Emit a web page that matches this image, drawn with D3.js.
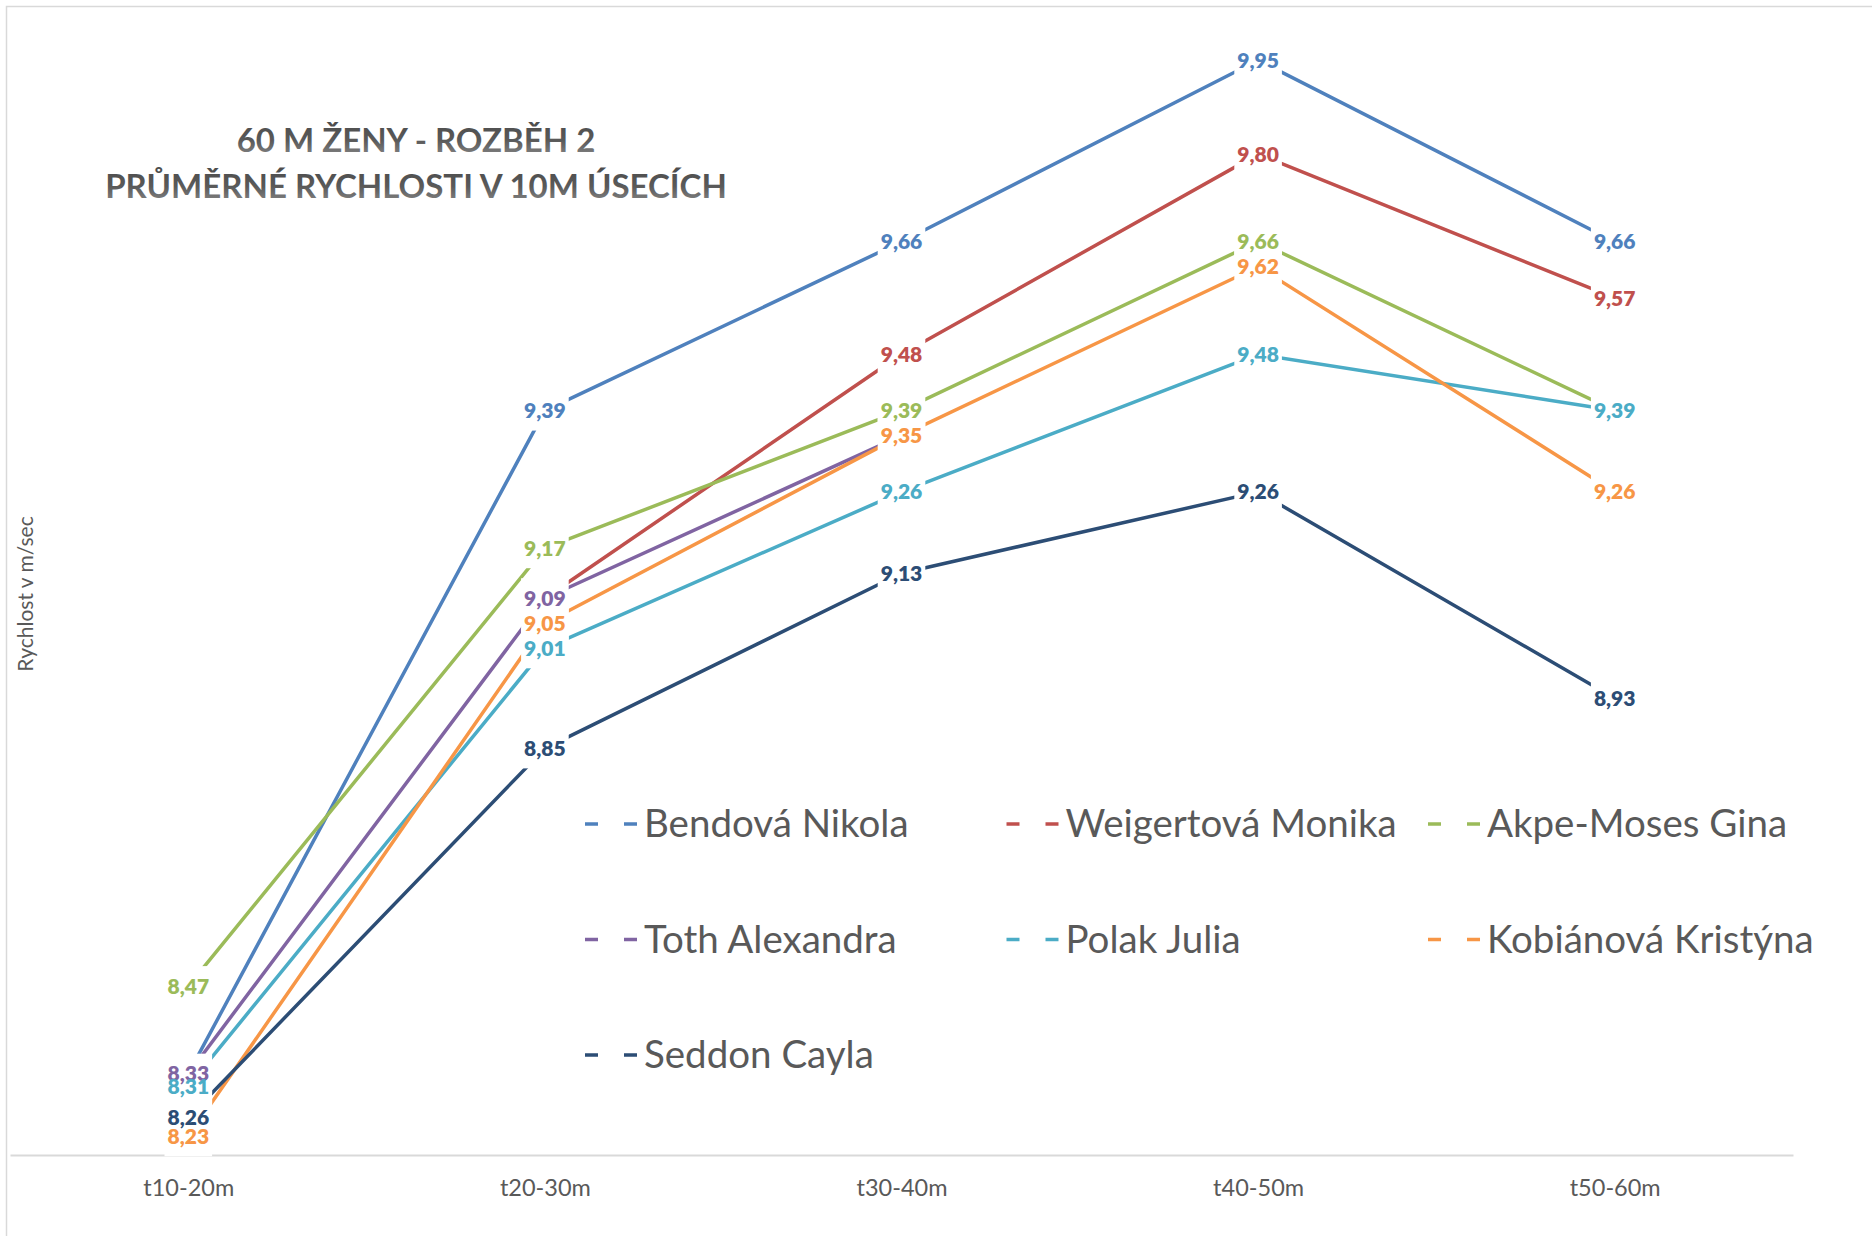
<!DOCTYPE html>
<html><head><meta charset="utf-8">
<script src="https://cdn.jsdelivr.net/npm/d3@7"></script>
<style>
body{margin:0;background:#fff;}
svg{display:block;font-family:Lato,'Open Sans',sans-serif;}
</style>
</head><body>
<svg id="c" width="1872" height="1236"></svg>
<script>
// ---- data ----
const categories = ["t10-20m", "t20-30m", "t30-40m", "t40-50m", "t50-60m"];
const seriesNames = ["Bendová Nikola", "Weigertová Monika", "Akpe-Moses Gina", "Toth Alexandra", "Polak Julia", "Kobiánová Kristýna", "Seddon Cayla"];
const bendova    = [8.33, 9.39, 9.66, 9.95, 9.66];
const weigertova = [null, 9.09, 9.48, 9.80, 9.57];
const akpeMoses  = [8.47, 9.17, 9.39, 9.66, 9.39];
const toth       = [8.33, 9.09, 9.35, null, null];
const polak      = [8.31, 9.01, 9.26, 9.48, 9.39];
const kobianova  = [8.23, 9.05, 9.35, 9.62, 9.26];
const seddon     = [8.26, 8.85, 9.13, 9.26, 8.93];
const seriesColors = ["#4F81BD", "#C0504D", "#9BBB59", "#8064A2", "#4BACC6", "#F79646", "#2C4D75"];
const titleLines = ["60 M ŽENY - ROZBĚH 2", "PRŮMĚRNÉ RYCHLOSTI V 10M ÚSECÍCH"];
const yAxisTitle = "Rychlost v m/sec";
const yDomain = [8.2, 10.0];

const seriesValues = [bendova, weigertova, akpeMoses, toth, polak, kobianova, seddon];
const series = seriesNames.map((name, i) => ({
  name, color: seriesColors[i],
  values: seriesValues[i].map((v, j) => ({cat: categories[j], v}))
}));

// ---- layout ----
const svg = d3.select("#c");
const x = d3.scalePoint().domain(categories).range([10, 1793]).padding(0.5);
const y = d3.scaleLinear().domain(yDomain).range([1155, 29]);
const fmt = d3.formatLocale({decimal: ",", thousands: " ", grouping: [3], currency: ["", ""]}).format(".2f");
const textGray = "#595959";

// chart border
svg.append("path").attr("d", "M6.5,1236 V6.5 H1872")
  .attr("fill", "none").attr("stroke", "#d9d9d9").attr("stroke-width", 1.5);

// title gradient
const defs = svg.append("defs");
const grad = defs.append("linearGradient").attr("id", "tg").attr("x1", 0).attr("y1", 0).attr("x2", 0).attr("y2", 1);
grad.append("stop").attr("offset", "0%").attr("stop-color", "#4a4a4a");
grad.append("stop").attr("offset", "55%").attr("stop-color", "#5a5a5a");
grad.append("stop").attr("offset", "100%").attr("stop-color", "#8a8a8a");

svg.append("g").selectAll("text").data(titleLines).join("text")
  .attr("x", 416).attr("y", (d, i) => 140 + i * 46)
  .attr("dy", "0.35em").attr("text-anchor", "middle")
  .attr("font-size", 33).attr("font-weight", 700)
  .attr("fill", "url(#tg)")
  .text(d => d);

// y axis title
svg.append("text")
  .attr("transform", "translate(26,594) rotate(-90)")
  .attr("text-anchor", "middle").attr("dy", "0.35em")
  .attr("font-size", 21).attr("fill", textGray)
  .text(yAxisTitle);

// x axis
const xAxis = svg.append("g").attr("transform", "translate(0,1155)")
  .call(d3.axisBottom(x).tickSizeInner(0).tickSizeOuter(0));
xAxis.select(".domain").attr("stroke", "#d9d9d9").attr("stroke-width", 2);
xAxis.selectAll("text").attr("y", 33).attr("dy", "0.35em")
  .attr("font-size", 23.5).attr("font-family", "Lato,'Open Sans',sans-serif").attr("fill", textGray);

// lines
const line = d3.line().defined(d => d.v != null).x(d => x(d.cat)).y(d => y(d.v));
svg.append("g").selectAll("path").data(series).join("path")
  .attr("d", d => line(d.values))
  .attr("fill", "none").attr("stroke", d => d.color)
  .attr("stroke-width", 3.5).attr("stroke-linejoin", "round");

// labels (a label fully covered by a later series' identical label is not drawn)
const allLabels = series.flatMap((s, si) => s.values.filter(d => d.v != null).map(d => ({...d, color: s.color, si})));
const labelData = allLabels.filter(a => !allLabels.some(b => b.si > a.si && b.cat === a.cat && b.v === a.v));
const boxG = svg.append("g");
const textG = svg.append("g");
const texts = textG.selectAll("text").data(labelData).join("text")
  .attr("x", d => x(d.cat)).attr("y", d => y(d.v))
  .attr("dy", "0.36em").attr("text-anchor", "middle")
  .attr("font-size", 21).attr("font-weight", 800)
  .attr("fill", d => d.color)
  .text(d => fmt(d.v));
texts.each(function(d) { d.w = this.getComputedTextLength(); });
boxG.selectAll("rect").data(labelData).join("rect")
  .attr("x", d => x(d.cat) - d.w / 2 - 3).attr("y", d => y(d.v) - 20)
  .attr("width", d => d.w + 6).attr("height", 40)
  .attr("fill", "#fff");

// legend
const legend = svg.append("g").selectAll("g").data(series).join("g")
  .attr("transform", (d, i) => `translate(${585 + (i % 3) * 421.5},${824 + Math.floor(i / 3) * 115.5})`);
legend.append("line").attr("x1", 0).attr("x2", 55).attr("y1", 0).attr("y2", 0)
  .attr("stroke", d => d.color).attr("stroke-width", 3.5)
  .attr("stroke-dasharray", "13,26");
legend.append("text").attr("x", 59).attr("dy", "0.35em")
  .attr("font-size", 38.5).attr("fill", textGray)
  .text(d => d.name);
</script>
</body></html>
